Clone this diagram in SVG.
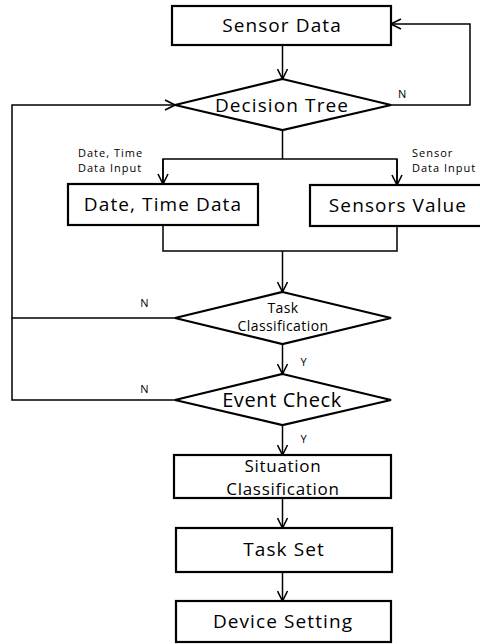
<svg xmlns="http://www.w3.org/2000/svg" width="480" height="644" viewBox="0 0 480 644">
<defs>
<marker id="arr" viewBox="0 0 12 12" refX="11" refY="6" markerWidth="12" markerHeight="12" markerUnits="userSpaceOnUse" orient="auto">
<polyline points="1,1 11,6 1,11" fill="none" stroke="#000" stroke-width="1.6"/>
</marker>
<style>
.box{fill:#fff;stroke:#000;stroke-width:2.2}
.ln{fill:none;stroke:#000;stroke-width:1.5}
text{font-family:"Open Sans","Noto Sans","DejaVu Sans",sans-serif;fill:#000;text-anchor:middle}
.big{font-size:19px;letter-spacing:1.1px}
.mid{font-size:17px;letter-spacing:0.7px}
.sm{font-size:14px;letter-spacing:0.4px}
.lab{font-size:11px;letter-spacing:1px}
.st{text-anchor:start}
</style>
</defs>
<rect width="480" height="644" fill="#fff"/>
<g id="connectors">
<line class="ln" x1="282.5" y1="45" x2="282.5" y2="79" marker-end="url(#arr)"/>
<polyline class="ln" points="391,105 470,105 470,24 391,24" marker-end="url(#arr)"/>
<polyline class="ln" points="175,318 12,318 12,105 175,105" marker-end="url(#arr)"/>
<polyline class="ln" points="175,400 12,400 12,318"/>
<line class="ln" x1="282.5" y1="130" x2="282.5" y2="159"/>
<polyline class="ln" points="163,184 163,159 397,159 397,184"/>
<line class="ln" x1="163" y1="159" x2="163" y2="184" marker-end="url(#arr)"/>
<line class="ln" x1="397" y1="159" x2="397" y2="185" marker-end="url(#arr)"/>
<polyline class="ln" points="163,225 163,251 397,251 397,226"/>
<line class="ln" x1="282.5" y1="251" x2="282.5" y2="292" marker-end="url(#arr)"/>
<line class="ln" x1="282.5" y1="344" x2="282.5" y2="374" marker-end="url(#arr)"/>
<line class="ln" x1="282.5" y1="425" x2="282.5" y2="455" marker-end="url(#arr)"/>
<line class="ln" x1="282.5" y1="498" x2="282.5" y2="528" marker-end="url(#arr)"/>
<line class="ln" x1="282.5" y1="572" x2="282.5" y2="601" marker-end="url(#arr)"/>
<text class="lab st" x="398" y="98">N</text>
<text class="lab st" x="78" y="157">Date, Time</text>
<text class="lab st" x="78" y="172">Data Input</text>
<text class="lab st" x="412" y="157">Sensor</text>
<text class="lab st" x="412" y="172">Data Input</text>
<text class="lab" x="145" y="307">N</text>
<text class="lab" x="145" y="393">N</text>
<text class="lab" x="304" y="366">Y</text>
<text class="lab" x="304" y="443">Y</text>
</g>
<g id="sensor-data">
<rect class="box" x="172" y="6" width="219" height="39"/>
<text class="big" x="282" y="32">Sensor Data</text>
</g>
<g id="decision-tree">
<polygon class="box" points="282.5,79 391,105 282.5,130 175,105"/>
<text class="big" x="282" y="112">Decision Tree</text>
</g>
<g id="date-time-data">
<rect class="box" x="68" y="184" width="190" height="41"/>
<text class="big" x="163" y="211">Date, Time Data</text>
</g>
<g id="sensors-value">
<rect class="box" x="310" y="185" width="175" height="41"/>
<text class="big" x="398" y="212">Sensors Value</text>
</g>
<g id="task-classification">
<polygon class="box" points="282.5,292 391,318 282.5,344 175,318"/>
<text class="sm" x="283" y="313">Task</text>
<text class="sm" x="283" y="331">Classification</text>
</g>
<g id="event-check">
<polygon class="box" points="282.5,374 391,400 282.5,425 175,400"/>
<text class="big" x="282" y="407" style="font-size:20px;letter-spacing:0.6px">Event Check</text>
</g>
<g id="situation-classification">
<rect class="box" x="174" y="455" width="217" height="43"/>
<text class="mid" x="283" y="472">Situation</text>
<text class="mid" x="283" y="495">Classification</text>
</g>
<g id="task-set">
<rect class="box" x="176" y="528" width="216" height="44"/>
<text class="big" x="284" y="556">Task Set</text>
</g>
<g id="device-setting">
<rect class="box" x="176" y="601" width="215" height="41"/>
<text class="big" x="283" y="628">Device Setting</text>
</g>
</svg>
